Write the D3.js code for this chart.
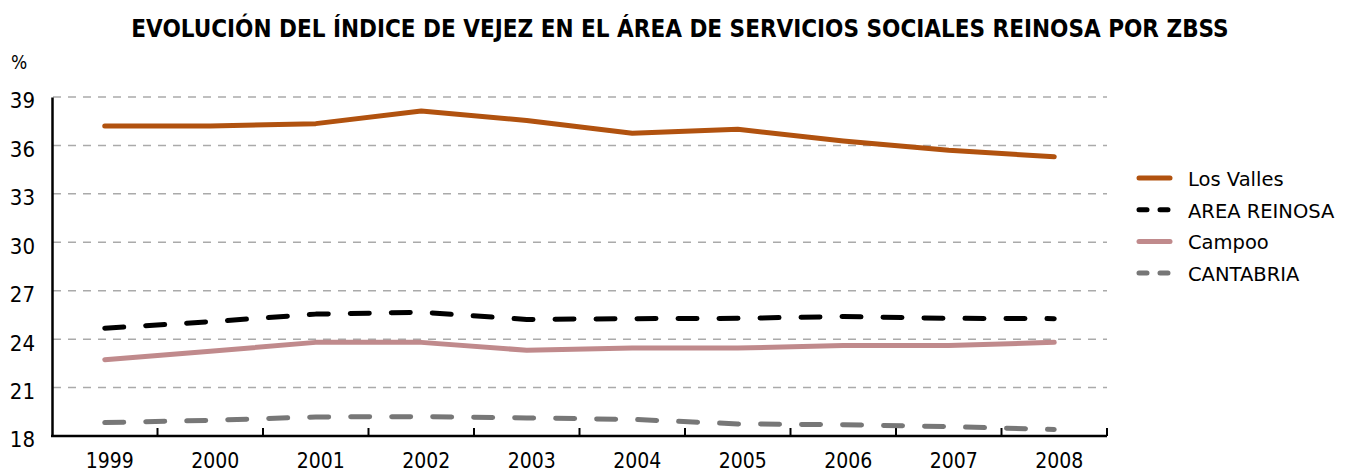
<!DOCTYPE html>
<html>
<head>
<meta charset="utf-8">
<script src="https://cdn.jsdelivr.net/npm/d3@7"></script>
<style>
body { margin: 0; background: #fff; }
text { font-family: "DejaVu Sans", sans-serif; }
.cond { font-family: "DejaVu Sans Condensed", "DejaVu Sans", sans-serif; font-stretch: condensed; }
</style>
</head>
<body>
<div id="chart"></div>
<script>
// data
var years = ["1999", "2000", "2001", "2002", "2003", "2004", "2005", "2006", "2007", "2008"];
var losValles = [37.2, 37.2, 37.35, 38.13, 37.55, 36.75, 37.0, 36.28, 35.7, 35.3];
var areaReinosa = [24.68, 25.08, 25.55, 25.67, 25.22, 25.27, 25.29, 25.4, 25.29, 25.27];
var campoo = [22.73, 23.25, 23.8, 23.8, 23.31, 23.45, 23.45, 23.6, 23.6, 23.8];
var cantabria = [18.83, 18.97, 19.18, 19.2, 19.12, 19.03, 18.75, 18.7, 18.58, 18.4];
var yTicks = [18, 21, 24, 27, 30, 33, 36, 39];

var series = [
  {name: "Los Valles", values: losValles, color: "#b1520f", dash: null},
  {name: "AREA REINOSA", values: areaReinosa, color: "#000000", dash: "19,22"},
  {name: "Campoo", values: campoo, color: "#c08a8c", dash: null},
  {name: "CANTABRIA", values: cantabria, color: "#777777", dash: "19,22"}
];

var W = 1351, H = 474;
var margin = {top: 97, right: 244, bottom: 38, left: 52};
var width = W - margin.left - margin.right,
    height = H - margin.top - margin.bottom;

var root = d3.select("#chart").append("svg")
  .attr("width", W)
  .attr("height", H);

// title
root.append("text")
  .attr("class", "cond")
  .attr("x", 680)
  .attr("y", 37)
  .attr("text-anchor", "middle")
  .style("font-size", "24px")
  .style("font-weight", "bold")
  .text("EVOLUCIÓN DEL ÍNDICE DE VEJEZ EN EL ÁREA DE SERVICIOS SOCIALES REINOSA POR ZBSS");

root.append("text")
  .attr("class", "cond")
  .attr("x", 11)
  .attr("y", 69)
  .style("font-size", "19px")
  .text("%");

var svg = root.append("g")
  .attr("transform", "translate(" + margin.left + "," + margin.top + ")");

var x = d3.scaleBand().domain(years).range([0, width]);
var y = d3.scaleLinear().domain([18, 39]).range([height, 0]);

// grid lines
svg.selectAll(".grid")
  .data(yTicks.slice(1))
  .enter().append("line")
  .attr("x1", 1).attr("x2", width)
  .attr("y1", function(d) { return y(d); })
  .attr("y2", function(d) { return y(d); })
  .attr("stroke", "#aaaaaa")
  .attr("stroke-width", 1.5)
  .attr("stroke-dasharray", "8,7");

// y axis
var yAxis = svg.append("g")
  .call(d3.axisLeft(y).tickValues(yTicks).tickSize(0).tickPadding(17));
yAxis.select(".domain").attr("stroke", "#000").attr("stroke-width", 2.5);
yAxis.selectAll("text")
  .attr("class", "cond")
  .attr("fill", "#000")
  .attr("dy", "0.68em")
  .attr("y", -4)
  .style("font-size", "22px");

// x axis with ticks at category boundaries
var xg = svg.append("g").attr("transform", "translate(0," + height + ")");
xg.append("line")
  .attr("x1", -1).attr("x2", width)
  .attr("stroke", "#000").attr("stroke-width", 2.5);
xg.selectAll(".tk")
  .data(years)
  .enter().append("line")
  .attr("x1", function(d) { return x(d) + x.bandwidth(); })
  .attr("x2", function(d) { return x(d) + x.bandwidth(); })
  .attr("y1", 0).attr("y2", -8)
  .attr("stroke", "#000").attr("stroke-width", 2);
xg.selectAll(".lbl")
  .data(years)
  .enter().append("text")
  .attr("class", "cond")
  .attr("x", function(d) { return x(d) + x.bandwidth() / 2 + 5; })
  .attr("y", 32)
  .attr("text-anchor", "middle")
  .style("font-size", "21px")
  .text(function(d) { return d; });

// lines
var line = d3.line()
  .x(function(d, i) { return x(years[i]) + x.bandwidth() / 2; })
  .y(function(d) { return y(d); });

svg.selectAll(".serie")
  .data(series)
  .enter().append("path")
  .attr("d", function(d) { return line(d.values); })
  .attr("fill", "none")
  .attr("stroke", function(d) { return d.color; })
  .attr("stroke-width", 5)
  .attr("stroke-linecap", "round")
  .attr("stroke-linejoin", "round")
  .attr("stroke-dasharray", function(d) { return d.dash; });

// legend
var legend = root.append("g").attr("transform", "translate(1139,178)");
var item = legend.selectAll(".item")
  .data(series)
  .enter().append("g")
  .attr("transform", function(d, i) { return "translate(0," + (i * 31.7) + ")"; });
item.append("line")
  .attr("x1", 0).attr("x2", function(d) { return d.dash ? 29 : 31; })
  .attr("stroke", function(d) { return d.color; })
  .attr("stroke-width", 5)
  .attr("stroke-linecap", "round")
  .attr("stroke-dasharray", function(d) { return d.dash ? "8,13" : null; });
item.append("text")
  .attr("x", 49)
  .attr("y", 8)
  .style("font-size", "19.5px")
  .text(function(d) { return d.name; });
</script>
</body>
</html>
